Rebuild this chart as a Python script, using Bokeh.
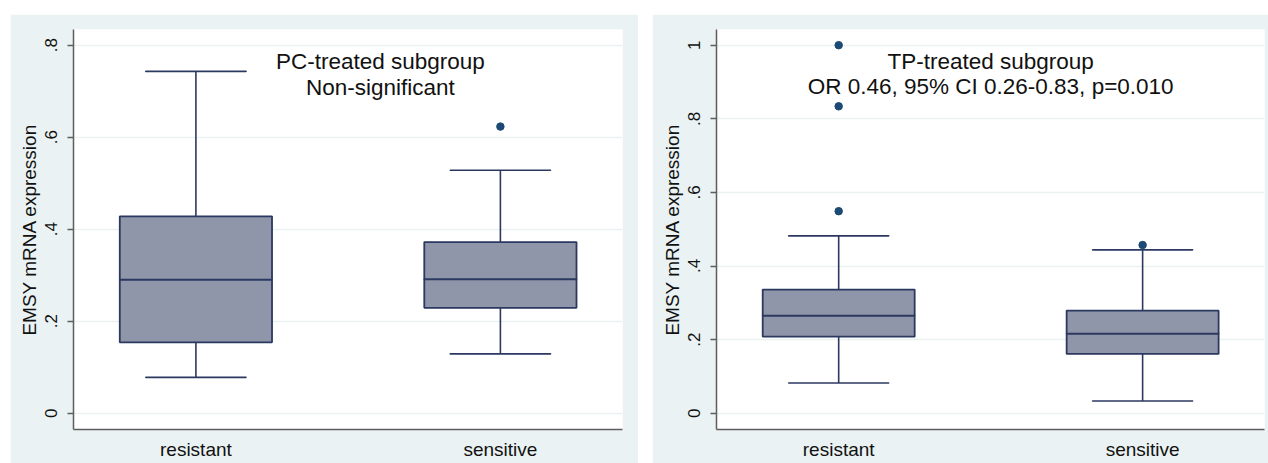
from bokeh.plotting import figure
from bokeh.models import FixedTicker, Label, Range1d, Spacer, ColumnDataSource
from bokeh.layouts import row, column
from bokeh.embed import file_html
from bokeh.resources import INLINE

categories = ["resistant", "sensitive"]

# PC-treated subgroup
pc_lower = [0.078, 0.129]
pc_q1 = [0.154, 0.229]
pc_median = [0.290, 0.291]
pc_q3 = [0.428, 0.372]
pc_upper = [0.743, 0.528]
pc_outliers = [[], [0.623]]

# TP-treated subgroup
tp_lower = [0.082, 0.033]
tp_q1 = [0.208, 0.161]
tp_median = [0.265, 0.216]
tp_q3 = [0.336, 0.279]
tp_upper = [0.482, 0.444]
tp_outliers = [[0.549, 0.834, 1.0], [0.457]]

pc_ticks = [0, 0.2, 0.4, 0.6, 0.8]
pc_tick_labels = ["0", ".2", ".4", ".6", ".8"]
tp_ticks = [0, 0.2, 0.4, 0.6, 0.8, 1]
tp_tick_labels = ["0", ".2", ".4", ".6", ".8", "1"]

pc_text = ["PC-treated subgroup", "Non-significant"]
tp_text = ["TP-treated subgroup", "OR 0.46, 95% CI 0.26-0.83, p=0.010"]

BG = "#EAF2F3"
FILL = "#8F96A9"
LINE = "#2B3960"
DOT = "#1C4A74"
FONT = "Liberation Sans"


def make_panel(width, min_left, min_right, yr, ticks, tick_labels,
               lower, q1, med, q3, upper, outliers, texts, tx, ty):
    p = figure(width=width, height=449, output_backend="svg", toolbar_location=None,
               x_range=Range1d(0.598, 2.401), y_range=Range1d(*yr),
               min_border_left=min_left, min_border_right=min_right,
               min_border_top=15, min_border_bottom=34)
    p.border_fill_color = BG
    p.background_fill_color = "white"
    p.outline_line_color = None
    p.xgrid.visible = False
    p.ygrid.grid_line_color = BG
    p.ygrid.grid_line_width = 1.5
    p.ygrid.ticker = FixedTicker(ticks=ticks)

    xs = [i + 1 for i in range(len(categories))]
    src = ColumnDataSource(dict(x=xs, lower=lower, q1=q1, med=med, q3=q3, upper=upper))
    # whiskers
    p.segment(x0="x", x1="x", y0="q3", y1="upper", source=src, line_color=LINE, line_width=1.6)
    p.segment(x0="x", x1="x", y0="lower", y1="q1", source=src, line_color=LINE, line_width=1.6)
    p.rect(x="x", y="upper", width=0.33, height=0.0001, source=src,
           line_color=LINE, line_width=1.6, fill_color=LINE)
    p.rect(x="x", y="lower", width=0.33, height=0.0001, source=src,
           line_color=LINE, line_width=1.6, fill_color=LINE)
    # boxes
    p.vbar(x="x", bottom="q1", top="q3", width=0.5, source=src,
           fill_color=FILL, line_color=LINE, line_width=1.8)
    p.rect(x="x", y="med", width=0.5, height=0.0001, source=src,
           line_color=LINE, line_width=2, fill_color=LINE)
    # outliers
    ox, oy = [], []
    for i, outs in enumerate(outliers):
        for v in outs:
            ox.append(xs[i])
            oy.append(v)
    p.scatter(ox, oy, size=7.5, color=DOT)

    # axes
    p.yaxis.ticker = FixedTicker(ticks=ticks)
    p.yaxis.major_label_overrides = {t: l for t, l in zip(ticks, tick_labels)}
    p.yaxis.major_label_orientation = "vertical"
    p.yaxis.axis_label = "EMSY mRNA expression"
    p.yaxis.axis_label_text_font = FONT
    p.yaxis.axis_label_text_font_style = "normal"
    p.yaxis.axis_label_text_font_size = "19px"
    p.yaxis.axis_label_text_color = "#111111"
    p.yaxis.axis_label_standoff = 3
    p.yaxis.major_label_text_font = FONT
    p.yaxis.major_label_text_font_size = "17px"
    p.yaxis.major_label_text_color = "#111111"
    p.yaxis.major_label_standoff = 10
    p.yaxis.major_tick_out = 6
    p.yaxis.major_tick_in = 0
    p.yaxis.minor_tick_line_color = None
    p.yaxis.axis_line_color = "#5E5E5E"
    p.yaxis.axis_line_width = 1.5
    p.yaxis.major_tick_line_color = "#5E5E5E"
    p.yaxis.major_tick_line_width = 1.5

    p.xaxis.ticker = FixedTicker(ticks=xs)
    p.xaxis.major_label_overrides = {x: c for x, c in zip(xs, categories)}
    p.xaxis.major_label_text_font = FONT
    p.xaxis.major_label_text_font_size = "19px"
    p.xaxis.major_label_text_color = "#111111"
    p.xaxis.major_label_standoff = 9
    p.xaxis.major_tick_out = 0
    p.xaxis.major_tick_in = 0
    p.xaxis.major_tick_line_color = None
    p.xaxis.minor_tick_line_color = None
    p.xaxis.axis_line_color = "#5E5E5E"
    p.xaxis.axis_line_width = 1.5

    for t, yy in zip(texts, ty):
        p.add_layout(Label(x=tx, y=yy, text=t, text_align="center",
                           text_baseline="alphabetic", text_font=FONT,
                           text_font_size="22.5px", text_color="#111111"))
    return p


p1 = make_panel(628, 63, 16, (-0.0354, 0.834), pc_ticks, pc_tick_labels,
                pc_lower, pc_q1, pc_median, pc_q3, pc_upper, pc_outliers,
                pc_text, 1.606, [0.764, 0.709])
p2 = make_panel(616, 64, 4, (-0.0443, 1.0427), tp_ticks, tp_tick_labels,
                tp_lower, tp_q1, tp_median, tp_q3, tp_upper, tp_outliers,
                tp_text, 1.500, [0.955, 0.887])

layout = column(Spacer(height=14),
                row(Spacer(width=10), p1, Spacer(width=14), p2))

open("out.html", "w").write(file_html(layout, INLINE))
